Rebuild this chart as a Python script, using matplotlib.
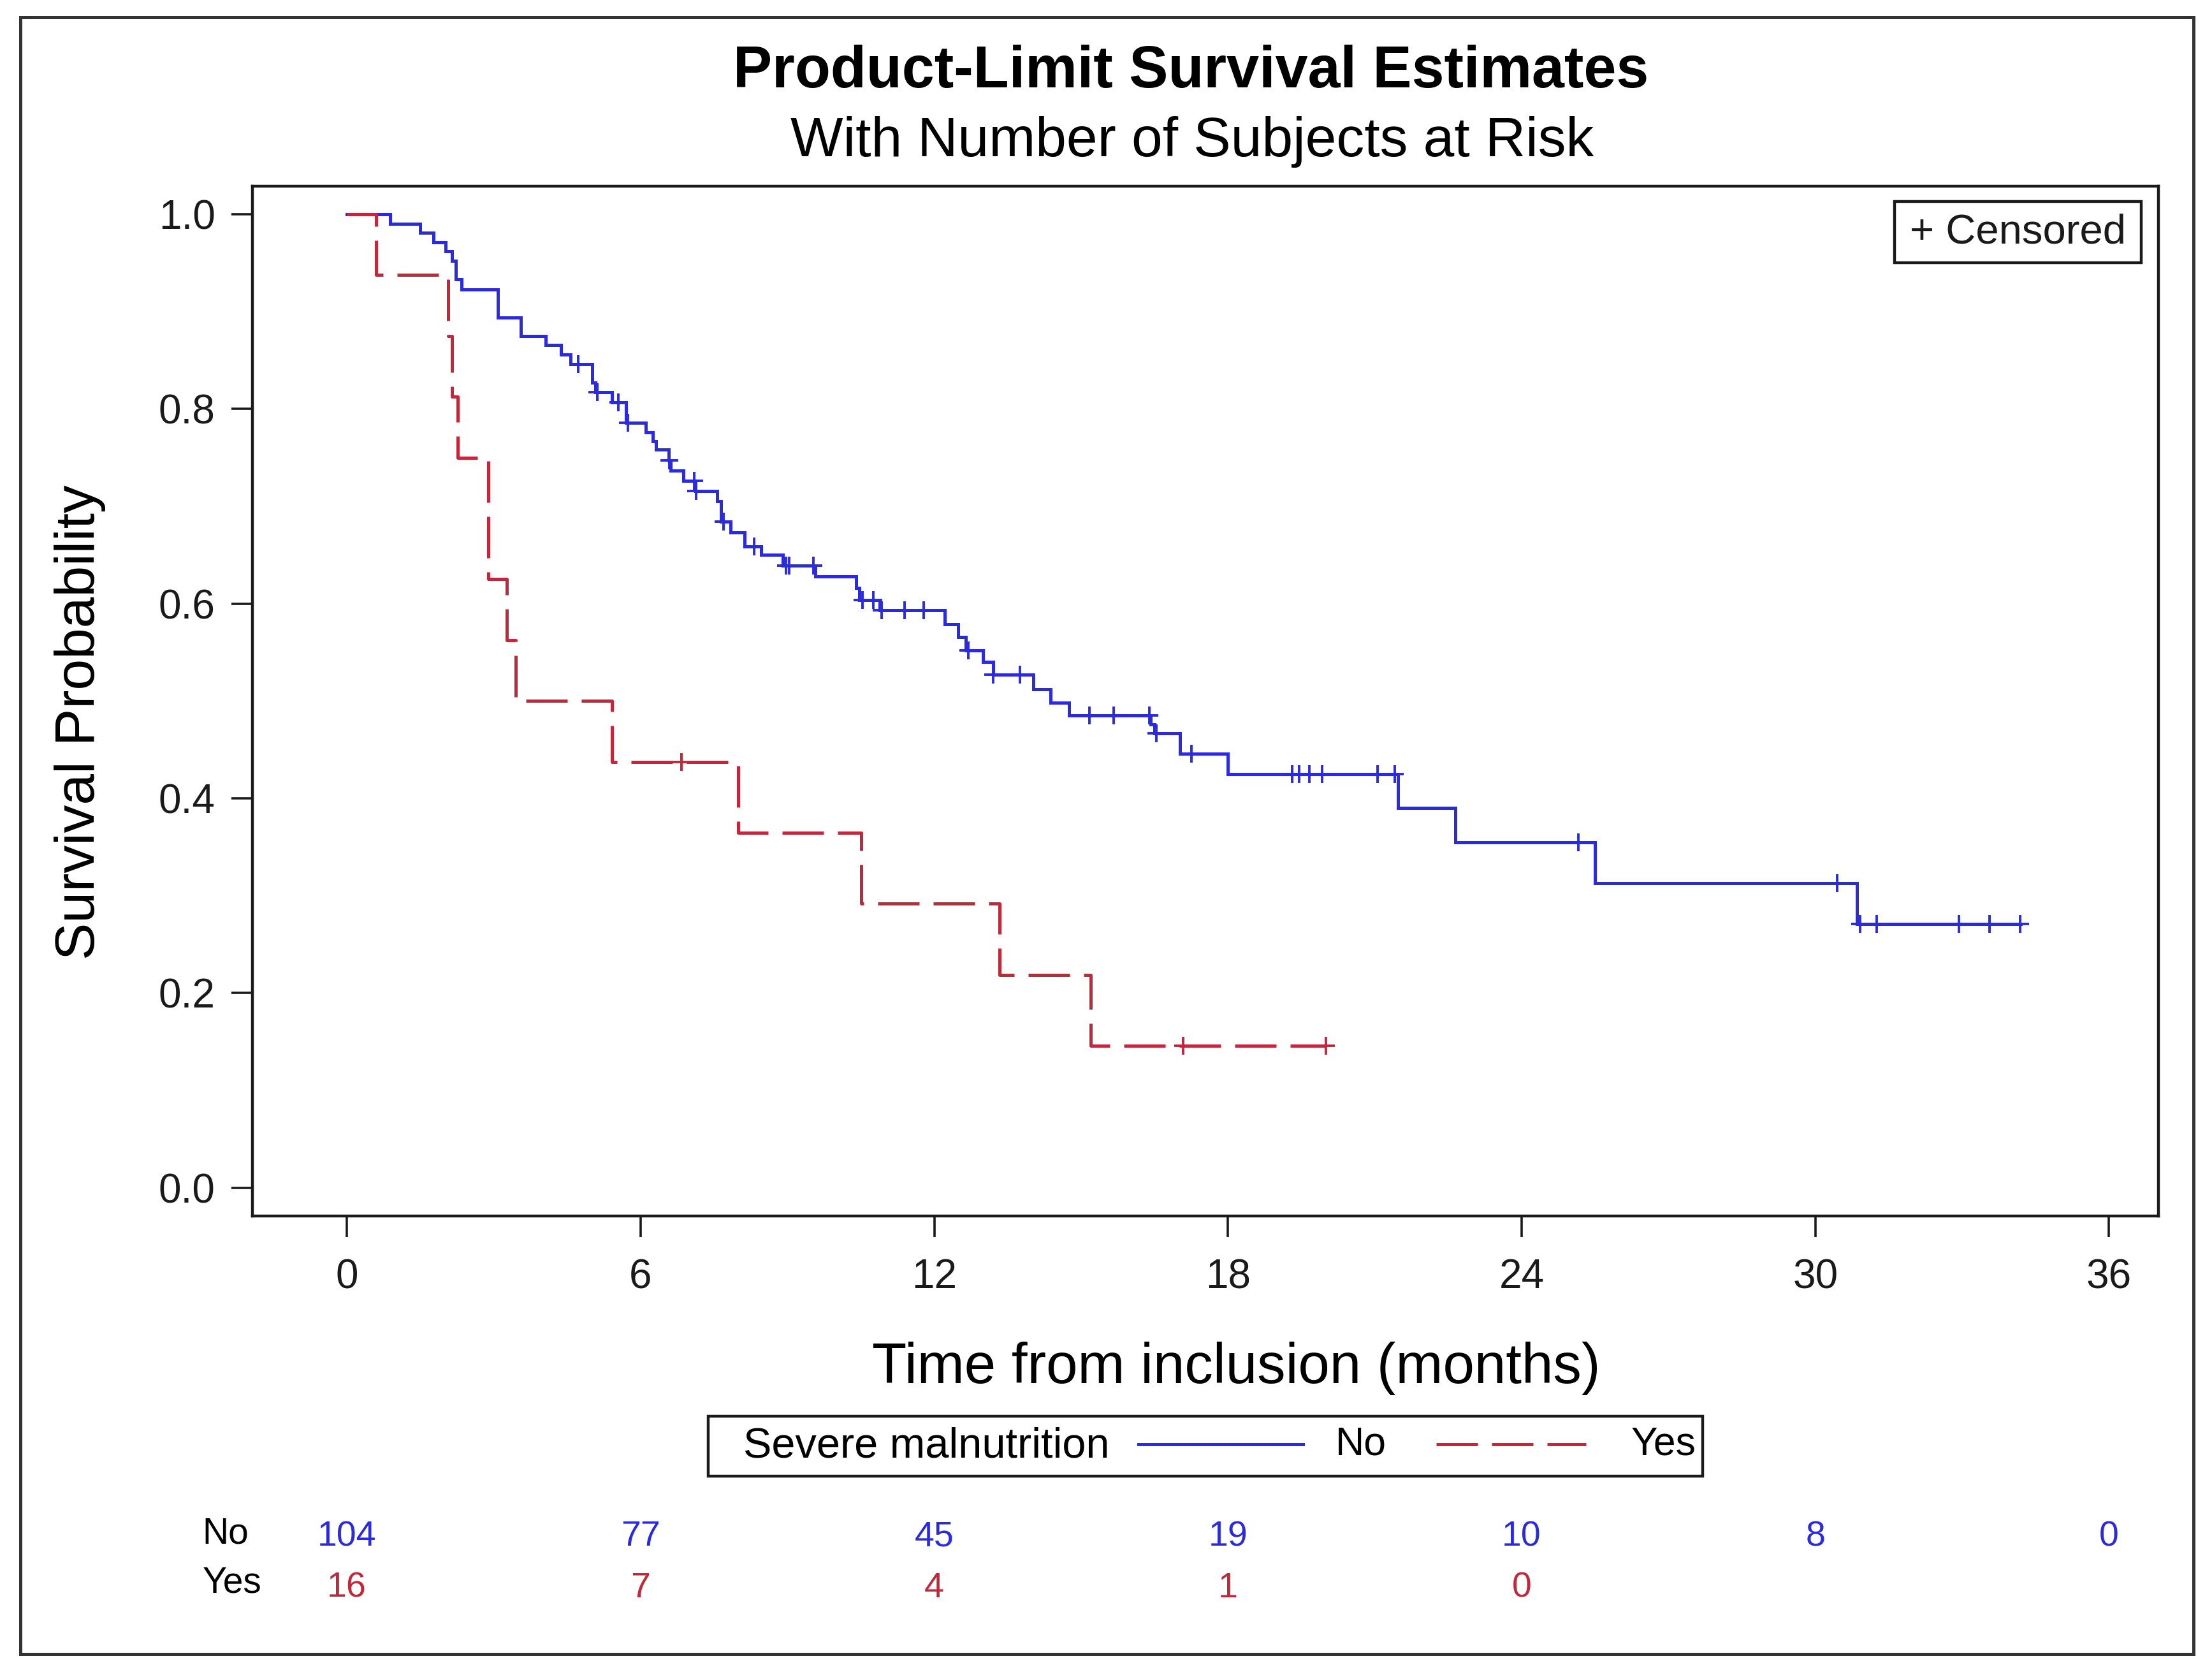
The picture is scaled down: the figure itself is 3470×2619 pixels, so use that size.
import numpy as np
import matplotlib
matplotlib.use("Agg")
import matplotlib.pyplot as plt
from matplotlib.lines import Line2D
from matplotlib.patches import Rectangle
from matplotlib.transforms import blended_transform_factory

plt.rcParams['font.family'] = ['Liberation Sans', 'DejaVu Sans']

# ---------------- data ----------------
# Group "No" (no severe malnutrition): step times (months) and survival after each step
no_times = [0.0, 0.88, 1.50, 1.77, 2.02, 2.15, 2.22, 2.34, 3.09, 3.55, 4.06, 4.37, 4.57,
            5.01, 5.08, 5.42, 5.70, 6.10, 6.25, 6.31, 6.57, 6.61, 6.88, 7.12, 7.57, 7.64,
            7.84, 8.12, 8.46, 8.91, 9.57, 10.41, 10.47, 10.89, 12.22, 12.49, 12.65, 13.00,
            13.20, 14.03, 14.38, 14.75, 16.42, 16.50, 17.02, 17.99, 21.47, 22.65, 25.50, 30.85]
no_surv = [1.000, 0.990, 0.981, 0.971, 0.962, 0.952, 0.933, 0.923, 0.894, 0.875, 0.866, 0.856, 0.846,
           0.827, 0.817, 0.807, 0.786, 0.776, 0.767, 0.758, 0.747, 0.737, 0.726, 0.716, 0.705, 0.684,
           0.673, 0.659, 0.650, 0.639, 0.628, 0.616, 0.604, 0.593, 0.579, 0.566, 0.552, 0.540,
           0.527, 0.512, 0.498, 0.485, 0.476, 0.467, 0.446, 0.425, 0.390, 0.355, 0.313, 0.271]
no_end = 34.2
no_censor = [4.72, 5.11, 5.55, 5.74, 6.59, 7.09, 7.13, 7.69, 8.32, 8.97, 9.03, 9.53, 10.53,
             10.76, 10.92, 11.39, 11.78, 12.70, 13.20, 13.75, 15.17, 15.66, 16.39, 16.54,
             17.26, 19.31, 19.45, 19.66, 19.93, 21.05, 21.41, 25.16, 30.44, 30.92, 31.26,
             32.93, 33.56, 34.18]

# Group "Yes" (severe malnutrition)
yes_times = [0.0, 0.60, 2.07, 2.15, 2.27, 2.89, 3.27, 3.45, 5.41, 8.00, 10.51, 13.33, 15.20]
yes_surv = [1.0, 0.9375, 0.875, 0.8125, 0.75, 0.625, 0.5625, 0.5, 0.4375, 0.3646, 0.2917,
            0.2188, 0.1458]
yes_end = 20.0
yes_censor = [6.83, 17.08, 20.0]

# Number at risk
risk_times = [0, 6, 12, 18, 24, 30, 36]
risk_no = [104, 77, 45, 19, 10, 8, 0]
risk_yes = [16, 7, 4, 1, 0]

x_ticks = [0, 6, 12, 18, 24, 30, 36]
y_ticks = [0.0, 0.2, 0.4, 0.6, 0.8, 1.0]

BLUE = '#2b2bd9'
RED = '#c0283c'
DARK = '#1a1a1a'
LW = 3.6
DASH = (0, (13.0, 4.4))

# ---------------- figure ----------------
fig = plt.figure(figsize=(34.70, 26.19), dpi=100)
ax = fig.add_axes([0.1141, 0.2720, 0.8617, 0.6165])


def step_value(times, surv, t):
    idx = np.searchsorted(np.asarray(times), t, side='right') - 1
    return np.asarray(surv)[idx]


def draw_curve(times, surv, end, censor, color, ls):
    xs = list(times) + [end]
    ys = list(surv) + [surv[-1]]
    ax.step(xs, ys, where='post', color=color, lw=LW, linestyle=ls,
            solid_joinstyle='miter', dash_capstyle='butt', zorder=3)
    cy = [step_value(times, surv, t) for t in censor]
    ax.plot(censor, cy, linestyle='none', marker='+', markersize=20,
            markeredgewidth=2.8, color=color, zorder=4)


draw_curve(no_times, no_surv, no_end, no_censor, BLUE, '-')
draw_curve(yes_times, yes_surv, yes_end, yes_censor, RED, DASH)

ax.set_xlim(-1.93, 37.01)
ax.set_ylim(-0.0288, 1.0288)
ax.set_xticks(x_ticks)
ax.set_yticks(y_ticks)
ax.set_yticklabels([f"{v:.1f}" for v in y_ticks])
ax.tick_params(axis='both', direction='out', length=24, width=2.6, colors=DARK,
               labelsize=46, labelcolor=DARK)
ax.tick_params(axis='x', pad=24)
ax.tick_params(axis='y', pad=18)
for sp in ax.spines.values():
    sp.set_linewidth(3.2)
    sp.set_color(DARK)

# Censored legend box inside the axes
fig.add_artist(Rectangle((0.8565, 0.8427), 0.1115, 0.0366, transform=fig.transFigure,
                         fill=False, edgecolor=DARK, linewidth=3.2))
fig.text(0.9122, 0.8610, "+ Censored", ha='center', va='center', fontsize=47, color=DARK)

# Titles and axis labels
fig.text(0.5383, 0.9477, "Product-Limit Survival Estimates", ha='center', va='baseline',
         fontsize=66, fontweight='bold', color='black')
fig.text(0.5390, 0.9065, "With Number of Subjects at Risk", ha='center', va='baseline',
         fontsize=63, color='black')
fig.text(0.5590, 0.1718, "Time from inclusion (months)", ha='center', va='baseline',
         fontsize=64, color='black')
fig.text(0.0363, 0.5674, "Survival Probability", ha='center', va='center',
         rotation=90, fontsize=63, color='black')

# Group legend below the plot
fig.add_artist(Rectangle((0.3202, 0.1161), 0.4495, 0.0360, transform=fig.transFigure,
                         fill=False, edgecolor=DARK, linewidth=3.2))
fig.text(0.3360, 0.1340, "Severe malnutrition", ha='left', va='center', fontsize=48,
         color='black')
fig.add_artist(Line2D([0.5147, 0.5890], [0.1352, 0.1352], transform=fig.transFigure,
                      color=BLUE, lw=LW))
fig.text(0.6037, 0.1350, "No", ha='left', va='center', fontsize=45, color='black')
fig.add_artist(Line2D([0.6493, 0.7170], [0.1352, 0.1352], transform=fig.transFigure,
                      color=RED, lw=LW, linestyle=DASH))
fig.text(0.7375, 0.1350, "Yes", ha='left', va='center', fontsize=45, color='black')

# Number at risk table
tr = blended_transform_factory(ax.transData, fig.transFigure)
fig.text(0.0915, 0.0817, "No", ha='left', va='center', fontsize=41, color='black')
fig.text(0.0915, 0.0523, "Yes", ha='left', va='center', fontsize=41, color='black')
for t, n in zip(risk_times, risk_no):
    ax.text(t, 0.0798, str(n), transform=tr, ha='center', va='center', fontsize=40,
            color=BLUE, clip_on=False)
for t, n in zip(risk_times, risk_yes):
    ax.text(t, 0.0489, str(n), transform=tr, ha='center', va='center', fontsize=40,
            color=RED, clip_on=False)

# Outer frame
fig.add_artist(Rectangle((0.0092, 0.0097), 0.9824, 0.9800, transform=fig.transFigure,
                         fill=False, edgecolor='#333333', linewidth=3.6))

fig.savefig("out.png", dpi=100, facecolor='white')
